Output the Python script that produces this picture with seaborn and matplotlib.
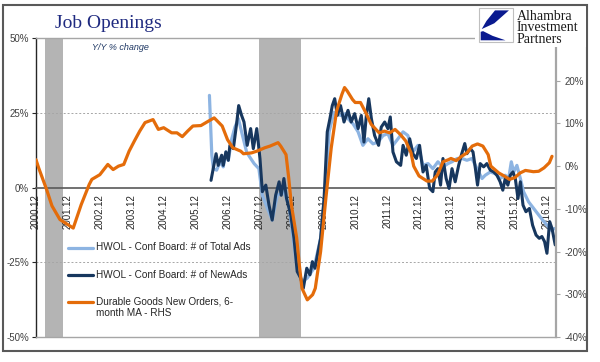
import numpy as np
import pandas as pd
import seaborn as sns
import matplotlib.pyplot as plt
from matplotlib.patches import Rectangle, Polygon
from matplotlib.lines import Line2D

# x values are months since 2000.12
ORANGE_M = [0, 1, 4, 6, 9, 12, 14, 17, 20, 21, 24, 27, 29, 31, 33, 35, 37, 39, 41, 44,
            46, 48, 51, 53, 55, 57, 59, 62, 65, 67, 70, 72, 74, 77, 78, 81, 83, 86, 88, 91,
            92, 94, 95, 96, 98, 99, 100, 102, 104, 105, 107, 109, 111, 113, 115, 116, 117, 119, 120, 122,
            124, 126, 129, 131, 133, 135, 137, 139, 141, 142, 144, 147, 149, 151, 153, 155, 156, 158, 160, 162,
            164, 166, 168, 170, 171, 174, 176, 178, 180, 182, 184, 187, 189, 191, 193, 194]
ORANGE_V = [1.5, -0.4, -5.5, -9.3, -12.5, -13.7, -14.5, -9.0, -4.3, -3.1, -2.0, 0.4, -0.8, 0.0, 0.4, 3.5, 5.9, 8.2, 10.2, 10.9,
            8.6, 9.0, 7.8, 7.8, 6.9, 8.2, 9.4, 9.5, 10.6, 11.3, 9.4, 6.2, 4.3, 3.5, 2.9, 3.1, 3.5, 4.3, 4.7, 5.5,
            4.7, 2.7, -2.7, -9.0, -16.8, -23.1, -28.6, -31.3, -30.1, -28.6, -20.0, -7.4, 4.3, 12.9, 16.8, 18.4, 17.6, 15.6, 14.9, 14.9,
            12.5, 9.8, 7.8, 8.2, 7.8, 8.6, 7.4, 5.9, 3.1, 0.0, -2.3, -3.5, -3.5, -2.0, 1.0, 1.5, 1.8, 1.3, 2.3, 3.1,
            4.7, 5.2, 4.7, 2.7, 0.0, -1.6, -2.3, -3.1, -2.7, -1.6, -1.0, -1.3, -1.2, -0.4, 0.8, 2.3]

NAVY_M = [65.8, 67.7, 68.5, 69.8, 70.4, 71.4, 72.3, 72.9, 74.2, 75.5, 76.2, 77.3, 78.2, 79.4, 80.7, 81.7, 83.0, 84.2, 85.1, 86.4,
          87.6, 88.8, 90.1, 91.4, 92.2, 93.2, 94.2, 95.8, 97.0, 98.2, 99.5, 100.5, 101.8, 103.0, 103.9, 104.9, 105.8, 107.0, 108.3, 109.5,
          110.5, 111.4, 112.3, 113.3, 114.5, 115.8, 117.3, 118.5, 119.8, 121.1, 122.3, 123.3, 124.2, 125.1, 126.1, 127.3, 128.8, 129.8, 131.1, 132.3,
          133.2, 134.2, 135.5, 137.1, 138.0, 139.2, 140.5, 141.7, 143.0, 144.2, 145.5, 146.7, 148.0, 149.2, 150.1, 151.1, 152.1, 153.0, 154.2, 155.3,
          156.4, 157.6, 158.9, 159.9, 161.2, 162.0, 163.3, 164.3, 165.2, 166.0, 167.0, 168.3, 169.5, 170.8, 172.1, 173.3, 174.5, 175.5, 176.4, 177.4,
          178.3, 179.3, 180.2, 181.2, 182.1, 183.1, 184.2, 185.5, 186.7, 188.0, 189.2, 190.2, 191.2, 192.1, 193.1, 194.0, 195.2]
NAVY_V = [2.4, 11.3, 7.4, 10.8, 7.4, 11.9, 9.1, 14.1, 13.0, 21.9, 27.4, 24.1, 21.9, 14.1, 19.7, 13.0, 19.7, 9.7, -1.4, 0.8,
          -5.9, -10.9, -2.6, 1.9, -2.6, 3.0, -3.7, -9.2, -17.0, -28.1, -30.3, -33.7, -27.0, -29.2, -24.8, -27.0, -22.6, -17.0, -3.7, 18.6,
          23.0, 27.4, 29.7, 24.1, 27.4, 21.9, 25.8, 21.9, 24.7, 19.7, 24.1, 15.2, 24.1, 29.7, 23.0, 17.4, 14.1, 20.2, 21.9, 19.7,
          23.6, 11.9, 8.6, 7.4, 14.1, 10.8, 16.3, 11.3, 9.7, 14.1, 5.2, 7.4, -0.3, -1.4, 5.2, 6.3, 0.8, 9.7, 3.0, -0.3,
          6.3, 1.9, 7.4, 10.8, 14.7, 11.3, 13.0, 11.9, 6.3, 0.8, 8.0, 6.9, 8.0, 5.8, 5.2, 4.1, 1.9, -0.9, 3.0, 0.8,
          4.1, 5.2, 3.0, -3.7, 1.9, -5.9, -8.1, -7.0, -12.6, -15.9, -17.0, -16.4, -18.1, -22.0, -11.4, -13.7, -19.2]

LIGHT_M = [65.2, 66.1, 66.7, 67.9, 69.2, 70.4, 71.4, 72.3, 73.6, 74.8, 76.1, 77.3, 79.2, 80.5, 82.0, 83.8, 85.1, 87.0, 88.8, 90.7,
           93.2, 95.1, 97.0, 98.2, 100.1, 102.0, 104.5, 107.0, 108.9, 110.2, 112.0, 114.5, 116.4, 117.3, 119.2, 121.1, 122.9, 124.8, 126.7, 128.6,
           130.5, 132.3, 134.2, 136.1, 138.0, 139.8, 141.7, 143.6, 145.5, 147.4, 149.2, 151.1, 153.0, 154.9, 156.4, 158.3, 160.2, 162.0, 163.9, 165.2,
           166.4, 167.7, 168.9, 170.8, 172.7, 174.5, 176.4, 177.7, 178.7, 179.6, 180.8, 182.1, 183.3, 185.2, 187.1, 189.0, 190.5, 192.1, 193.7, 195.0]
LIGHT_V = [30.8, 10.8, 6.3, 5.8, 8.6, 6.9, 11.9, 9.1, 16.3, 20.2, 23.0, 18.6, 11.8, 10.0, 8.0, 6.3, -2.6, -7.0, -10.9, -2.6,
           -1.4, -5.9, -19.2, -27.0, -31.4, -30.3, -27.0, -17.0, 0.8, 18.6, 25.2, 24.1, 24.7, 23.0, 21.3, 18.6, 14.1, 16.3, 14.6, 15.2,
           17.4, 18.0, 14.1, 16.3, 18.6, 17.4, 11.9, 14.1, 7.4, 8.0, 6.3, 8.6, 6.9, 8.0, 8.6, 9.7, 9.7, 9.1, 9.7, 7.4,
           5.2, 3.0, 4.1, 5.2, 4.6, 3.0, 4.1, 3.0, 8.6, 5.2, 7.4, 3.0, -1.4, -4.8, -7.0, -9.2, -10.9, -12.6, -14.3, -13.7]

TICK_MONTHS = [0, 12, 24, 36, 48, 60, 72, 84, 96, 108, 120, 132, 144, 156, 168, 180, 192]
TICK_LABELS = ["2000.12", "2001.12", "2002.12", "2003.12", "2004.12", "2005.12", "2006.12", "2007.12", "2008.12",
               "2009.12", "2010.12", "2011.12", "2012.12", "2013.12", "2014.12", "2015.12", "2016.12"]
LEFT_TICKS = [-50, -25, 0, 25, 50]
RIGHT_TICKS = [-40, -30, -20, -10, 0, 10, 20]
RECESSIONS = [(3.3, 10.2), (83.8, 99.5)]

LABEL_TOTAL = "HWOL - Conf Board: # of Total Ads"
LABEL_NEW = "HWOL - Conf Board: # of NewAds"
LABEL_DUR = "Durable Goods New Orders, 6-\nmonth MA - RHS"

C_LIGHT = "#8DB4E2"
C_NAVY = "#17375E"
C_ORANGE = "#E46C0A"

sns.set_style("white")
plt.rcParams['font.family'] = ['Liberation Sans', 'DejaVu Sans']

W, H = 600, 362
fx = lambda px: px / W
fy = lambda py: 1 - py / H

fig = plt.figure(figsize=(6, 3.62), dpi=100)
ax = fig.add_axes([fx(36), fy(337), 520 / W, 299 / H])
ax2 = ax.twinx()

for a, b in RECESSIONS:
    ax.axvspan(a, b, color="#B4B4B4", lw=0, zorder=0)
for g in (25, -25):
    ax.axhline(g, color="#A6A6A6", lw=0.7, ls=(0, (2, 2)), zorder=1)

light_df = pd.DataFrame({"month": LIGHT_M, "pct": LIGHT_V})
navy_df = pd.DataFrame({"month": NAVY_M, "pct": NAVY_V})
orange_df = pd.DataFrame({"month": ORANGE_M, "pct": ORANGE_V})

sns.lineplot(data=light_df, x="month", y="pct", ax=ax, color=C_LIGHT, lw=2.3,
             estimator=None, sort=False, zorder=3)
sns.lineplot(data=navy_df, x="month", y="pct", ax=ax, color=C_NAVY, lw=2.2,
             estimator=None, sort=False, zorder=4)
sns.lineplot(data=orange_df, x="month", y="pct", ax=ax2, color=C_ORANGE, lw=2.3,
             estimator=None, sort=False, zorder=5)

ax.set_xlim(0, 195.5)
ax.set_ylim(-50, 50)
ax2.set_ylim(-40, 30)
for a in (ax, ax2):
    a.set_xlabel("")
    a.set_ylabel("")

# left axis / zero line
ax.spines["bottom"].set_position(("data", 0))
ax.spines["bottom"].set_color("#595959")
ax.spines["bottom"].set_linewidth(1.2)
ax.spines["left"].set_color("#262626")
ax.spines["left"].set_linewidth(1.0)
ax.spines["top"].set_visible(False)
ax.spines["right"].set_visible(False)
ax.set_xticks(TICK_MONTHS)
ax.set_xticklabels(TICK_LABELS)
ax.tick_params(axis="x", direction="out", length=3, width=0.8, color="#595959", pad=1.5,
               labelrotation=90, labelsize=7, labelcolor="#262626")
ax.set_yticks(LEFT_TICKS)
ax.set_yticklabels([f"{t}%" for t in LEFT_TICKS])
ax.tick_params(axis="y", direction="out", length=3, width=0.8, color="#262626", pad=2,
               labelsize=7, labelcolor="#404040")

# right axis
ax2.spines["left"].set_visible(False)
for s in ("top", "bottom"):
    ax2.spines[s].set_color("#A6A6A6")
    ax2.spines[s].set_linewidth(1.0)
ax2.spines["right"].set_color("#A6A6A6")
ax2.spines["right"].set_linewidth(1.6)
ax2.set_yticks(RIGHT_TICKS)
ax2.set_yticklabels([f"{t}%" for t in RIGHT_TICKS])
ax2.tick_params(axis="y", direction="out", length=3, width=0.8, color="#A6A6A6", pad=3,
                labelsize=7, labelcolor="#404040")

# legend, drawn entry by entry so the orange key sits on the first text line
legend_rows = [(C_LIGHT, LABEL_TOTAL, 248), (C_NAVY, LABEL_NEW, 275), (C_ORANGE, LABEL_DUR, 302)]
for color, label, yrow in legend_rows:
    fig.add_artist(Line2D([fx(68), fx(93)], [fy(yrow), fy(yrow)], transform=fig.transFigure,
                          color=color, lw=2.3, solid_capstyle="round", zorder=6))
    fig.text(fx(96), fy(yrow - 5.5), label, fontsize=7.2, color="#262626", va="top",
             linespacing=1.2, zorder=6)

# titles
fig.text(fx(55), fy(28.5), "Job Openings", fontsize=14, family=["Liberation Serif"],
         color="#1F2A80", va="baseline")
fig.text(fx(92), fy(48), "Y/Y % change", fontsize=6.5, style="italic", color="#1F3864", va="center")

# outer frame
fig.add_artist(Rectangle((fx(3), fy(351)), 584 / W, 346 / H, transform=fig.transFigure,
                         fill=False, ec="#595959", lw=1.5, zorder=10))

# logo
fig.add_artist(Rectangle((fx(475), fy(47)), 111 / W, 40 / H, transform=fig.transFigure,
                         fc="white", ec="none", zorder=11))
fig.add_artist(Rectangle((fx(479), fy(42)), 34 / W, 34 / H, transform=fig.transFigure,
                         fc="white", ec="#BFBFBF", lw=0.8, zorder=12))
box = lambda u, v: (fx(479 + 34 * u), fy(42 - 34 * v))
blade = [box(0.47, 0.93), box(0.88, 0.93), box(0.45, 0.55), box(0.08, 0.38), box(0.22, 0.62)]
base = [box(0.05, 0.05), box(0.78, 0.05), box(0.40, 0.18), box(0.12, 0.32), box(0.05, 0.30)]
for pts in (blade, base):
    fig.add_artist(Polygon(pts, closed=True, transform=fig.transFigure, fc="#0A1A8F", ec="none", zorder=13))
fig.text(fx(517), fy(10), "Alhambra\nInvestment\nPartners", fontsize=10, family=["Liberation Serif"],
         color="#1A1A1A", va="top", ha="left", linespacing=0.84, zorder=13)

fig.savefig("out.png", dpi=100)
